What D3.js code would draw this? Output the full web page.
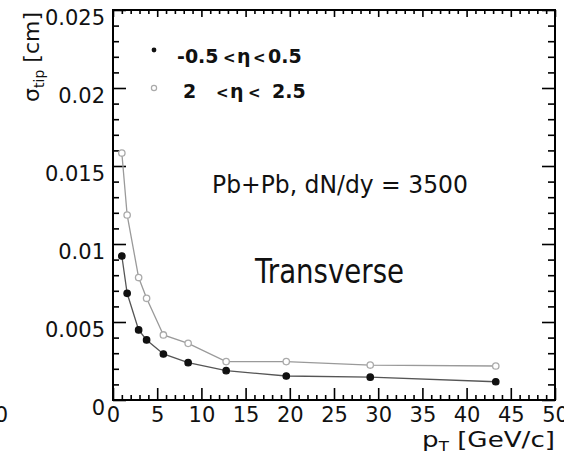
<!DOCTYPE html>
<html>
<head>
<meta charset="utf-8">
<script src="https://cdn.jsdelivr.net/npm/d3@7"></script>
<style>
body { margin: 0; background: #fff; }
svg { display: block; background: #fff; }
text { font-family: "DejaVu Sans", sans-serif; fill: #111; }
.tick text { font-size: 21px; }
.legend text { font-weight: bold; font-size: 19px; }
.legend text.lt { font-size: 15px; }
</style>
</head>
<body>
<svg></svg>
<script>
let width = 564, height = 458
let margin = {top: 10, right: 9, bottom: 58, left: 113}

// pT bins [GeV/c] and sigma_tip [cm] for the two eta ranges
let pt = [1.0, 1.6, 2.9, 3.8, 5.7, 8.5, 12.8, 19.6, 29.1, 43.3]
let sigmaCentral = [0.00923, 0.00684, 0.00449, 0.00385, 0.00295, 0.00239, 0.00188, 0.00154, 0.00146, 0.00117]
let sigmaForward = [0.01583, 0.01186, 0.00785, 0.00652, 0.00417, 0.00363, 0.00246, 0.00246, 0.00224, 0.00218]

let xTicks = [0, 5, 10, 15, 20, 25, 30, 35, 40, 45, 50]
let yTicks = [0, 0.005, 0.01, 0.015, 0.02, 0.025]
let yTickLabels = ["0", "0.005", "0.01", "0.015", "0.02", "0.025"]

let svg = d3.select("svg").attr("width", width).attr("height", height)

let x = d3.scaleLinear().domain([0, 50]).range([margin.left, width - margin.right])
let y = d3.scaleLinear().domain([0, 0.025]).range([height - margin.bottom, margin.top])

let minorX = d3.range(0, 51).filter(d => d % 5 !== 0)
let minorY = d3.range(0, 26).filter(d => d % 5 !== 0).map(d => d / 1000)

const addAxis = (axis, tx, ty) => {
    let g = svg.append("g")
        .attr("transform", `translate(${tx},${ty})`)
        .call(axis)
    g.select(".domain").remove()
    g.selectAll(".tick line").attr("stroke", "#000").attr("stroke-width", 1.6)
    return g
}

let frameBottom = height - margin.bottom, frameTop = margin.top
let frameLeft = margin.left, frameRight = width - margin.right

addAxis(d3.axisBottom(x).tickValues(xTicks).tickSize(-12).tickPadding(7).tickFormat(d3.format("d")), 0, frameBottom)
addAxis(d3.axisBottom(x).tickValues(minorX).tickSize(-5).tickFormat(""), 0, frameBottom)
addAxis(d3.axisTop(x).tickValues(xTicks).tickSize(-7).tickFormat(""), 0, frameTop)
addAxis(d3.axisTop(x).tickValues(minorX).tickSize(-4).tickFormat(""), 0, frameTop)

let leftAxis = addAxis(d3.axisLeft(y).tickValues(yTicks).tickSize(-13).tickPadding(8)
    .tickFormat((d, i) => yTickLabels[i]), frameLeft, 0)
leftAxis.selectAll(".tick text").attr("dy", "0.7em")
addAxis(d3.axisLeft(y).tickValues(minorY).tickSize(-6).tickFormat(""), frameLeft, 0)
addAxis(d3.axisRight(y).tickValues(yTicks).tickSize(-13).tickFormat(""), frameRight, 0)
addAxis(d3.axisRight(y).tickValues(minorY).tickSize(-7).tickFormat(""), frameRight, 0)

svg.append("rect")
    .attr("x", frameLeft).attr("y", frameTop)
    .attr("width", frameRight - frameLeft).attr("height", frameBottom - frameTop)
    .attr("fill", "none").attr("stroke", "#000").attr("stroke-width", 2)

// curves
let series = [
    {values: sigmaCentral, line: "#555", fill: "#111", stroke: "#111"},
    {values: sigmaForward, line: "#9a9a9a", fill: "#fff", stroke: "#aaa"}
]

let line = d3.line().x(d => x(d[0])).y(d => y(d[1]))

series.forEach(s => {
    let pts = pt.map((p, i) => [p, s.values[i]])
    svg.append("path")
        .datum(pts)
        .attr("d", line)
        .attr("fill", "none")
        .attr("stroke", s.line)
        .attr("stroke-width", 1.3)
    svg.append("g").selectAll("circle")
        .data(pts)
        .enter()
        .append("circle")
        .attr("cx", d => x(d[0]))
        .attr("cy", d => y(d[1]))
        .attr("r", 3.2)
        .attr("fill", s.fill)
        .attr("stroke", s.stroke)
        .attr("stroke-width", 1.3)
})

// legend
let legend = svg.append("g").attr("class", "legend")
legend.append("circle").attr("cx", 154).attr("cy", 50).attr("r", 2.4).attr("fill", "#111")
legend.append("circle").attr("cx", 154).attr("cy", 88).attr("r", 2.6)
    .attr("fill", "#fff").attr("stroke", "#aaa").attr("stroke-width", 1.2)

const legendPiece = (px, py, str, cls) => legend.append("text")
    .attr("x", px).attr("y", py).attr("class", cls || null).text(str)

legendPiece(177, 63, "-0.5")
legendPiece(223, 63, "<", "lt")
legendPiece(237, 63, "η")
legendPiece(253, 63, "<", "lt")
legendPiece(268, 63, "0.5")
legendPiece(183, 98, "2")
legendPiece(216, 98, "<", "lt")
legendPiece(230, 98, "η")
legendPiece(248, 98, "<", "lt")
legendPiece(272, 98, "2.5")

const fitWidth = (sel, w, ax) => {
    let sx = w / sel.node().getBBox().width
    sel.attr("transform", `translate(${ax},0) scale(${sx},1) translate(${-ax},0)`)
}

let pb = svg.append("text").attr("x", 212).attr("y", 193)
    .style("font-size", "24px").text("Pb+Pb, dN/dy = 3500")
fitWidth(pb, 256, 212)

let tr = svg.append("text").attr("x", 255).attr("y", 283)
    .style("font-size", "33px").text("Transverse")
fitWidth(tr, 150, 255)

// axis titles
let xTitle = svg.append("text").attr("x", frameRight).attr("y", 447)
    .attr("text-anchor", "end").style("font-size", "22px")
xTitle.append("tspan").text("p")
xTitle.append("tspan").attr("dy", 4).style("font-size", "14px").text("T")
xTitle.append("tspan").attr("dy", -4).text(" [GeV/c]")
fitWidth(xTitle, 133, frameRight)

let yTitle = svg.append("text")
    .attr("transform", "translate(39,12) rotate(-90)")
    .attr("text-anchor", "end").style("font-size", "22px")
yTitle.append("tspan").text("σ")
yTitle.append("tspan").attr("dy", 5).style("font-size", "14px").text("tip")
yTitle.append("tspan").attr("dy", -5).text(" [cm]")

// cut-off label from the neighbouring panel
svg.append("text").attr("x", 8).attr("y", 422)
    .attr("text-anchor", "end").style("font-size", "21px").text("0")
</script>
</body>
</html>
